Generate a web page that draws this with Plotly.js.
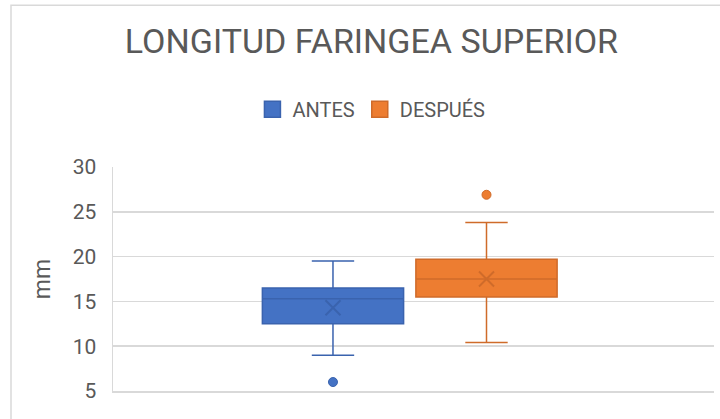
<!DOCTYPE html>
<html>
<head>
<meta charset="utf-8">
<script src="https://cdn.plot.ly/plotly-3.0.1.min.js"></script>
<style>html,body{margin:0;padding:0;background:#fff;}#chart{width:720px;height:419px;}</style>
</head>
<body>
<div id="chart"></div>
<script>
// Data
var categories = ['ANTES', 'DESPUÉS'];
var q1Values = [12.5, 15.5];
var medianValues = [15.3, 17.5];
var q3Values = [16.5, 19.7];
var lowerWhisker = [9.0, 10.4];
var upperWhisker = [19.5, 23.8];
var meanValues = [14.3, 17.5];
var outlierValues = [[6.0], [26.9]];
var yTicks = [5, 10, 15, 20, 25, 30];

var fillColors = ['#4472C4', '#ED7D31'];
var lineColors = ['#3A63AE', '#CF6B2A'];

var traces = [];
categories.forEach(function (cat, i) {
  traces.push({
    type: 'box',
    name: cat,
    x: [cat],
    q1: [q1Values[i]],
    median: [medianValues[i]],
    q3: [q3Values[i]],
    lowerfence: [lowerWhisker[i]],
    upperfence: [upperWhisker[i]],
    width: 0.92,
    whiskerwidth: 0.3,
    fillcolor: fillColors[i],
    line: {color: lineColors[i], width: 1.5},
    boxpoints: false,
    showlegend: false,
    hoverinfo: 'skip'
  });
  traces.push({
    type: 'scatter', mode: 'markers',
    x: [cat], y: [meanValues[i]],
    marker: {symbol: 'x-thin', size: 15, line: {color: lineColors[i], width: 2}},
    showlegend: false, hoverinfo: 'skip'
  });
  traces.push({
    type: 'scatter', mode: 'markers',
    x: outlierValues[i].map(function () { return cat; }), y: outlierValues[i],
    marker: {symbol: 'circle', size: 9, color: fillColors[i], line: {color: lineColors[i], width: 1}},
    showlegend: false, hoverinfo: 'skip'
  });
});
// legend entries
categories.forEach(function (cat, i) {
  traces.push({
    type: 'scatter', mode: 'markers', name: cat,
    x: [null], y: [null],
    marker: {symbol: 'square', size: 16, color: fillColors[i], line: {color: lineColors[i], width: 1.5}},
    showlegend: true
  });
});

var layout = {
  width: 720, height: 419,
  margin: {l: 113, r: 6, t: 167, b: 28, pad: 0},
  paper_bgcolor: '#ffffff', plot_bgcolor: '#ffffff',
  font: {family: 'Roboto, sans-serif', color: '#595959'},
  title: {
    text: 'LONGITUD FARINGEA SUPERIOR',
    font: {family: 'Roboto, sans-serif', size: 34, color: '#595959'},
    xref: 'paper', x: 0.43, xanchor: 'center',
    yref: 'container', y: 0.902, yanchor: 'middle'
  },
  showlegend: true,
  legend: {
    orientation: 'h', xref: 'paper', yref: 'paper',
    x: 0.232, xanchor: 'left', y: 1.2576, yanchor: 'middle',
    font: {family: 'Roboto, sans-serif', size: 20, color: '#595959'},
    bgcolor: 'rgba(0,0,0,0)'
  },
  xaxis: {
    type: 'category',
    categoryarray: categories,
    range: [-1.433, 2.482],
    showticklabels: false, showgrid: false, zeroline: false,
    showline: true, linecolor: '#d9d9d9', linewidth: 1.5, ticks: ''
  },
  yaxis: {
    range: [5, 30],
    tickvals: yTicks,
    ticktext: yTicks.map(String),
    showgrid: true, gridcolor: '#d9d9d9', gridwidth: 1.5,
    zeroline: false,
    showline: true, linecolor: '#d9d9d9', linewidth: 1.5,
    ticks: '', ticklabelstandoff: 11,
    tickfont: {family: 'Roboto, sans-serif', size: 21, color: '#595959'},
    title: {text: 'mm', font: {family: 'Roboto, sans-serif', size: 23, color: '#595959'}, standoff: 15}
  },
  shapes: [{
    type: 'rect', xref: 'paper', yref: 'paper',
    x0: -0.1697, x1: 1.2, y0: -0.3, y1: 1.722,
    line: {color: '#d9d9d9', width: 1.5}, fillcolor: 'rgba(0,0,0,0)', layer: 'above'
  }]
};

Plotly.newPlot('chart', traces, layout, {displayModeBar: false, staticPlot: true});
</script>
</body>
</html>
